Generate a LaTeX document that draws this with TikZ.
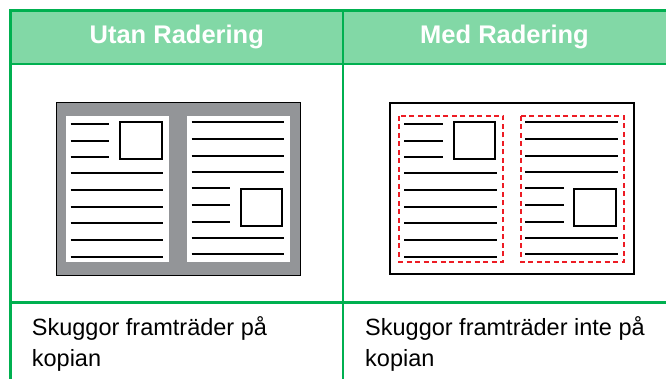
\documentclass[tikz,border=0pt]{standalone}
\usepackage{fontspec}
\setmainfont{Liberation Sans}
\definecolor{hdrfill}{RGB}{130,216,166}
\definecolor{tblgreen}{RGB}{0,176,80}
\definecolor{shadowgray}{RGB}{147,149,152}
\definecolor{erasered}{RGB}{237,28,36}
\newcommand\bookcontent{%
  \foreach \yy in {124,140.7,156.7} \draw[txtline] (70.7,\yy) -- (109,\yy);
  \foreach \yy in {173.3,190,206.7,223.3,240,256.7} \draw[txtline] (70.7,\yy) -- (163.3,\yy);
  \draw[picbox] (120,121.7) rectangle (161.7,159);
  \foreach \yy in {122.3,139,155.7,172.3,237.7,254.3} \draw[txtline] (191.7,\yy) -- (284,\yy);
  \foreach \yy in {188.3,205,221.7} \draw[txtline] (191.7,\yy) -- (230,\yy);
  \draw[picbox] (240.7,189) rectangle (282.3,226);
}
\begin{document}
\begin{tikzpicture}[x=1pt,y=-1pt,
  txtline/.style={line width=2pt,black},
  picbox/.style={line width=2pt,black},
  gridline/.style={line width=2.5pt,tblgreen},
  hdrtext/.style={anchor=base,inner sep=0pt,text=white,font=\fontsize{25.5}{30}\selectfont\bfseries},
  celltext/.style={anchor=base west,inner sep=0pt,text=black,font=\fontsize{23.5}{31}\selectfont},
  erasebox/.style={line width=2pt,erasered,dash pattern=on 5pt off 3.5pt}]
\useasboundingbox (0,0) rectangle (666,379);
% header
\fill[hdrfill] (10.7,10.5) rectangle (666,63.8);
\draw[gridline] (9.45,10.5) -- (666,10.5);
\draw[gridline] (10.7,9.25) -- (10.7,379);
\draw[gridline] (343,9.25) -- (343,379);
\draw[gridline] (9.45,63.8) -- (666,63.8);
\draw[gridline] (9.45,302.3) -- (666,302.3);
\node[hdrtext] (h1) at (176.8,43.3) {Utan Radering};
\node[hdrtext] (h2) at (504.5,43.3) {Med Radering};
% left image
\filldraw[fill=shadowgray,draw=black,line width=0.8pt] (56,102.7) rectangle (300,275);
\fill[white] (66,116) rectangle (169,262);
\fill[white] (186.7,116) rectangle (290,262);
\bookcontent
% right image
\begin{scope}[shift={(333.5,0)}]
  \filldraw[fill=white,draw=black,line width=2pt] (56,103.3) rectangle (300,274.3);
  \draw[erasebox] (65.8,116) rectangle (169.8,261.7);
  \draw[erasebox] (187.2,116) rectangle (290.5,261.7);
  \bookcontent
\end{scope}
% bottom texts
\node[celltext] (t1a) at (31.7,335.7) {Skuggor framträder på};
\node[celltext] (t1b) at (31.7,366.7) {kopian};
\node[celltext] (t2a) at (365,335.7) {Skuggor framträder inte på};
\node[celltext] (t2b) at (365,366.7) {kopian};
\end{tikzpicture}
\end{document}
